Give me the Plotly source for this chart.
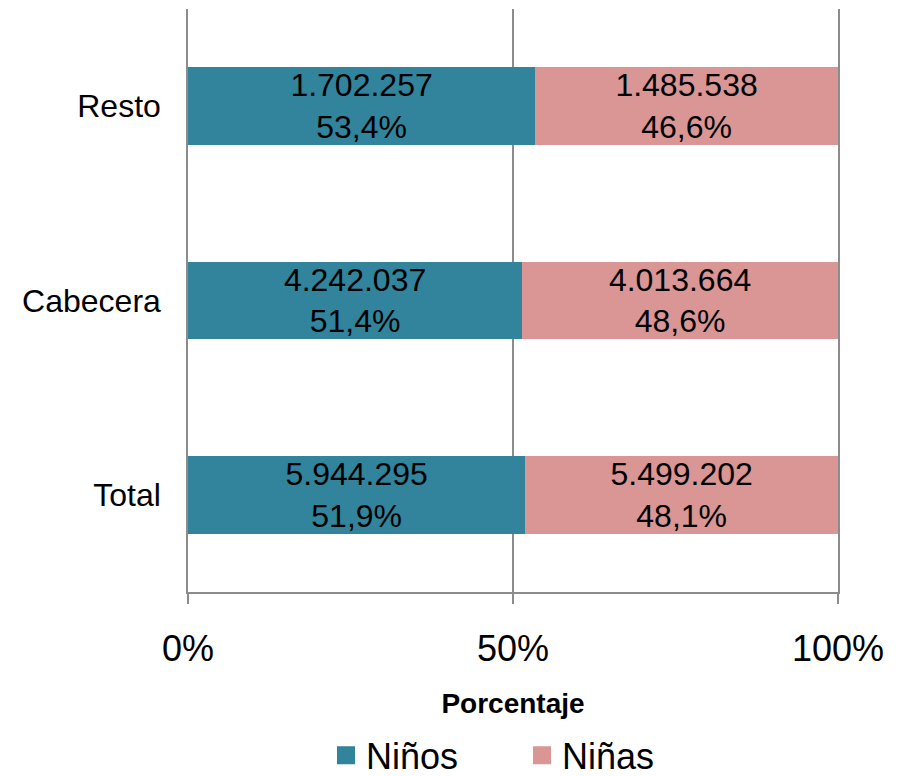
import plotly.graph_objects as go

categorias = ["Total", "Cabecera", "Resto"]
ninos_n = ["5.944.295", "4.242.037", "1.702.257"]
ninas_n = ["5.499.202", "4.013.664", "1.485.538"]
ninos_pct = [51.9, 51.4, 53.4]
ninas_pct = [48.1, 48.6, 46.6]
tick_vals = [0, 50, 100]
tick_text = ["0%", "50%", "100%"]

FONT = "Liberation Sans, Arial, sans-serif"
C_NINOS = "#31849B"
C_NINAS = "#D99694"
GRID = "#8c8c8c"

def fmt(p):
    return f"{p:.1f}%".replace(".", ",")

fig = go.Figure()
for name, vals, nums, col in [("Niños", ninos_pct, ninos_n, C_NINOS),
                              ("Niñas", ninas_pct, ninas_n, C_NINAS)]:
    fig.add_trace(go.Bar(
        y=categorias, x=vals, orientation="h", name=name, showlegend=False,
        marker=dict(color=col, line=dict(width=0)),
        text=[f"{n}<br>{fmt(p)}" for n, p in zip(nums, vals)],
        textposition="inside", insidetextanchor="middle", textangle=0,
        textfont=dict(size=32, color="black", family=FONT),
        constraintext="none", hoverinfo="skip",
    ))
for name, col in [("Niños", C_NINOS), ("Niñas", C_NINAS)]:
    fig.add_trace(go.Scatter(
        x=[None], y=[None], mode="markers", name=name,
        marker=dict(symbol="square", size=16, color=col, line=dict(width=2, color=col)),
        hoverinfo="skip",
    ))

fig.update_layout(
    barmode="stack", bargap=0.6,
    width=890, height=768,
    margin=dict(l=180, r=60, t=1, b=184, autoexpand=False),
    paper_bgcolor="white", plot_bgcolor="white",
    font=dict(family=FONT, color="black"),
    xaxis=dict(
        range=[0, 100], tickvals=tick_vals, ticktext=tick_text,
        tickfont=dict(size=36), showgrid=True, gridcolor=GRID, gridwidth=1.5,
        showline=True, linecolor=GRID, linewidth=2,
        ticks="outside", ticklen=10, tickcolor=GRID, tickwidth=1.5,
        ticklabelstandoff=14, zeroline=False,
        title=dict(text="<b>Porcentaje</b>", font=dict(size=28), standoff=25),
    ),
    yaxis=dict(
        tickfont=dict(size=32), showgrid=False,
        showline=True, mirror=True, linecolor=GRID, linewidth=1.5,
        ticks="", ticklabelstandoff=19, zeroline=False,
    ),
    legend=dict(
        orientation="h", x=0.2123, xanchor="left", y=-0.280, yanchor="middle",
        font=dict(size=36), traceorder="normal", itemsizing="trace",
        entrywidthmode="pixels", entrywidth=151,
    ),
    showlegend=True,
)

fig.write_html("out.html")
